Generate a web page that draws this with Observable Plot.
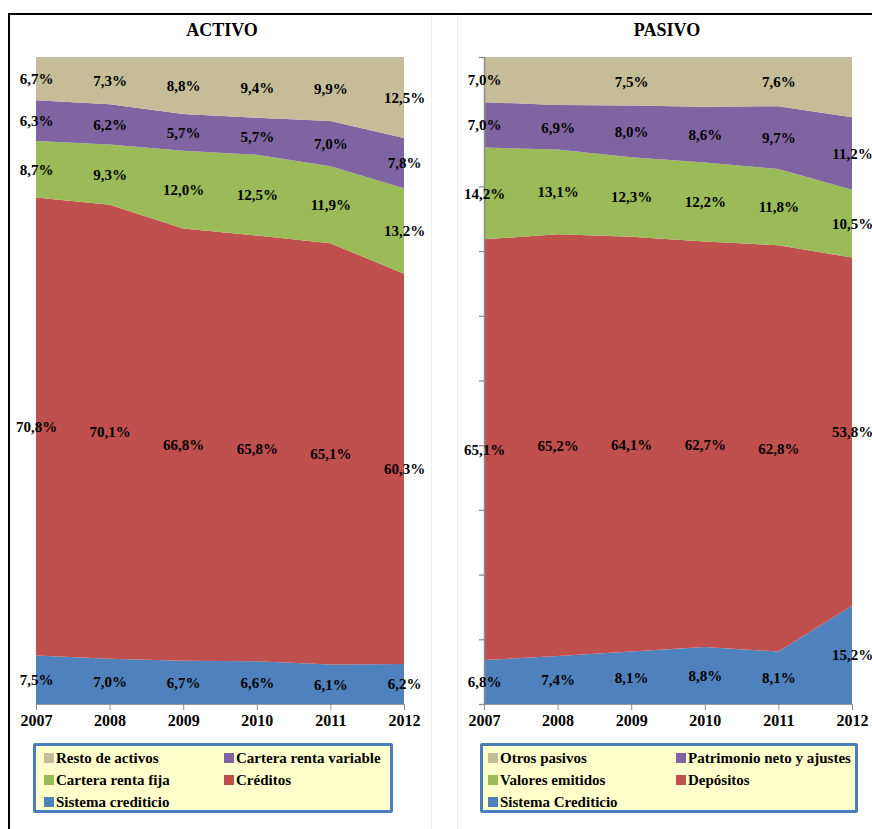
<!DOCTYPE html>
<html>
<head>
<meta charset="utf-8">
<script src="https://cdn.jsdelivr.net/npm/d3@7"></script>
<script src="https://cdn.jsdelivr.net/npm/@observablehq/plot@0.6"></script>
<style>
  body { margin: 0; background: #fff; }
  #page { position: relative; width: 872px; height: 829px; overflow: hidden;
          font-family: "Liberation Serif", "Times New Roman", serif; }
  .frame { position: absolute; left: 8px; top: 13px; width: 900px; height: 900px;
           border-top: 2px solid #000; border-left: 2px solid #000; box-sizing: border-box; }
  .faint { position: absolute; top: 15px; width: 1px; height: 814px; background: #f1f1f1; }
  .title { position: absolute; top: 20px; width: 200px; text-align: center;
           font-weight: bold; font-size: 18px; line-height: 20px; }
  .panel { position: absolute; top: 0; }
  .legend { position: absolute; top: 743px; height: 70px; box-sizing: border-box;
            border: 3px solid #4a7ebb; border-radius: 2px; background: #ffffcc;
            display: grid; grid-auto-rows: 22px;
            padding-top: 1px; font-weight: bold; font-size: 15px; }
  .item { display: flex; align-items: center; white-space: nowrap; }
  .sw { width: 10px; height: 10px; margin-right: 2px; flex: none; }
</style>
</head>
<body>
<div id="page">
  <div class="frame"></div>
  <div class="faint" style="left:431px"></div>
  <div class="faint" style="left:457px"></div>
</div>
<script>
// Years on the horizontal axis
const years = [2007, 2008, 2009, 2010, 2011, 2012];

// ACTIVO: share of total assets (%), series listed bottom to top
const activoSeries = ["Sistema crediticio", "Créditos", "Cartera renta fija", "Cartera renta variable", "Resto de activos"];
const activoSistema = [7.5, 7.0, 6.7, 6.6, 6.1, 6.2];
const activoCreditos = [70.8, 70.1, 66.8, 65.8, 65.1, 60.3];
const activoRentaFija = [8.7, 9.3, 12.0, 12.5, 11.9, 13.2];
const activoRentaVariable = [6.3, 6.2, 5.7, 5.7, 7.0, 7.8];
const activoResto = [6.7, 7.3, 8.8, 9.4, 9.9, 12.5];

// PASIVO: share of total liabilities (%), series listed bottom to top
const pasivoSeries = ["Sistema Crediticio", "Depósitos", "Valores emitidos", "Patrimonio neto y ajustes", "Otros pasivos"];
const pasivoSistema = [6.8, 7.4, 8.1, 8.8, 8.1, 15.2];
const pasivoDepositos = [65.1, 65.2, 64.1, 62.7, 62.8, 53.8];
const pasivoValores = [14.2, 13.1, 12.3, 12.2, 11.8, 10.5];
const pasivoPatrimonio = [7.0, 6.9, 8.0, 8.6, 9.7, 11.2];
const pasivoOtros = [7.0, 7.4, 7.5, 7.7, 7.6, 9.3];
// Points whose value label is left off
const pasivoUnlabeled = ["Otros pasivos|2008", "Otros pasivos|2010", "Otros pasivos|2012"];

// Series colours, bottom to top
const colors = ["#4f81bd", "#c0504d", "#9bbb59", "#8064a2", "#c4bd97"];

const pct = v => d3.format(".1f")(v).replace(".", ",") + "%";

function panel({series, values, marginLeft, marginRight, yAxis, unlabeled = []}) {
  const data = series.flatMap((s, i) => years.map((year, j) => ({year, series: s, value: values[i][j]})));
  const stack = {x: "year", y: "value", z: "series", order: series, offset: "normalize"};
  const hidden = new Set(unlabeled);
  return Plot.plot({
    width: 436,
    height: 730,
    marginTop: 57,
    marginBottom: 26,
    marginLeft,
    marginRight,
    x: {domain: [2007, 2012], label: null},
    y: {domain: [0, 1], label: null},
    color: {domain: series, range: colors},
    style: {fontFamily: "'Liberation Serif', 'Times New Roman', serif", fontWeight: "bold", fontSize: "15px", background: "transparent", overflow: "visible"},
    marks: [
      Plot.areaY(data, {...stack, fill: "series"}),
      Plot.ruleY([0], {stroke: "#9a9a9a", strokeWidth: 1}),
      yAxis ? Plot.ruleX([2007], {stroke: "#8c8c8c", strokeWidth: 1.5}) : null,
      yAxis
        ? Plot.axisY({ticks: d3.range(0, 11).map(i => i / 10), tickSize: 5, stroke: "#8c8c8c", tickFormat: () => "", strokeWidth: 1.3, label: null})
        : Plot.axisY({ticks: [], label: null}),
      Plot.axisX({ticks: years, tickFormat: "d", tickSize: 6, tickPadding: 4, stroke: "#8c8c8c", fill: "#000", fontSize: 16, label: null}),
      Plot.text(data, Plot.stackY({
        ...stack,
        text: d => hidden.has(d.series + "|" + d.year) ? null : pct(d.value),
        fill: "#000",
        fontSize: 15,
        fontWeight: "bold"
      }))
    ]
  });
}

function legend(series, left, width, padLeft, colWidth) {
  const box = document.createElement("div");
  box.className = "legend";
  box.style.left = left + "px";
  box.style.width = width + "px";
  box.style.paddingLeft = padLeft + "px";
  box.style.gridTemplateColumns = colWidth + "px auto";
  // Top series first, two per row
  series.slice().reverse().forEach(s => {
    const i = series.indexOf(s);
    const item = document.createElement("div");
    item.className = "item";
    const sw = document.createElement("span");
    sw.className = "sw";
    sw.style.background = colors[i];
    item.appendChild(sw);
    item.appendChild(document.createTextNode(s));
    box.appendChild(item);
  });
  return box;
}

const page = document.getElementById("page");

function place(node, left) {
  const wrap = document.createElement("div");
  wrap.className = "panel";
  wrap.style.left = left + "px";
  wrap.appendChild(node);
  page.appendChild(wrap);
}

function title(text, left) {
  const t = document.createElement("div");
  t.className = "title";
  t.style.left = left + "px";
  t.textContent = text;
  page.appendChild(t);
}

place(panel({
  series: activoSeries,
  values: [activoSistema, activoCreditos, activoRentaFija, activoRentaVariable, activoResto],
  marginLeft: 36, marginRight: 32, yAxis: false
}), 0);

place(panel({
  series: pasivoSeries,
  values: [pasivoSistema, pasivoDepositos, pasivoValores, pasivoPatrimonio, pasivoOtros],
  marginLeft: 48, marginRight: 20, yAxis: true, unlabeled: pasivoUnlabeled
}), 436);

title("ACTIVO", 122);
title("PASIVO", 567);

page.appendChild(legend(activoSeries, 33, 360, 8, 180));
page.appendChild(legend(pasivoSeries, 480, 378, 5, 188));
</script>
</body>
</html>
